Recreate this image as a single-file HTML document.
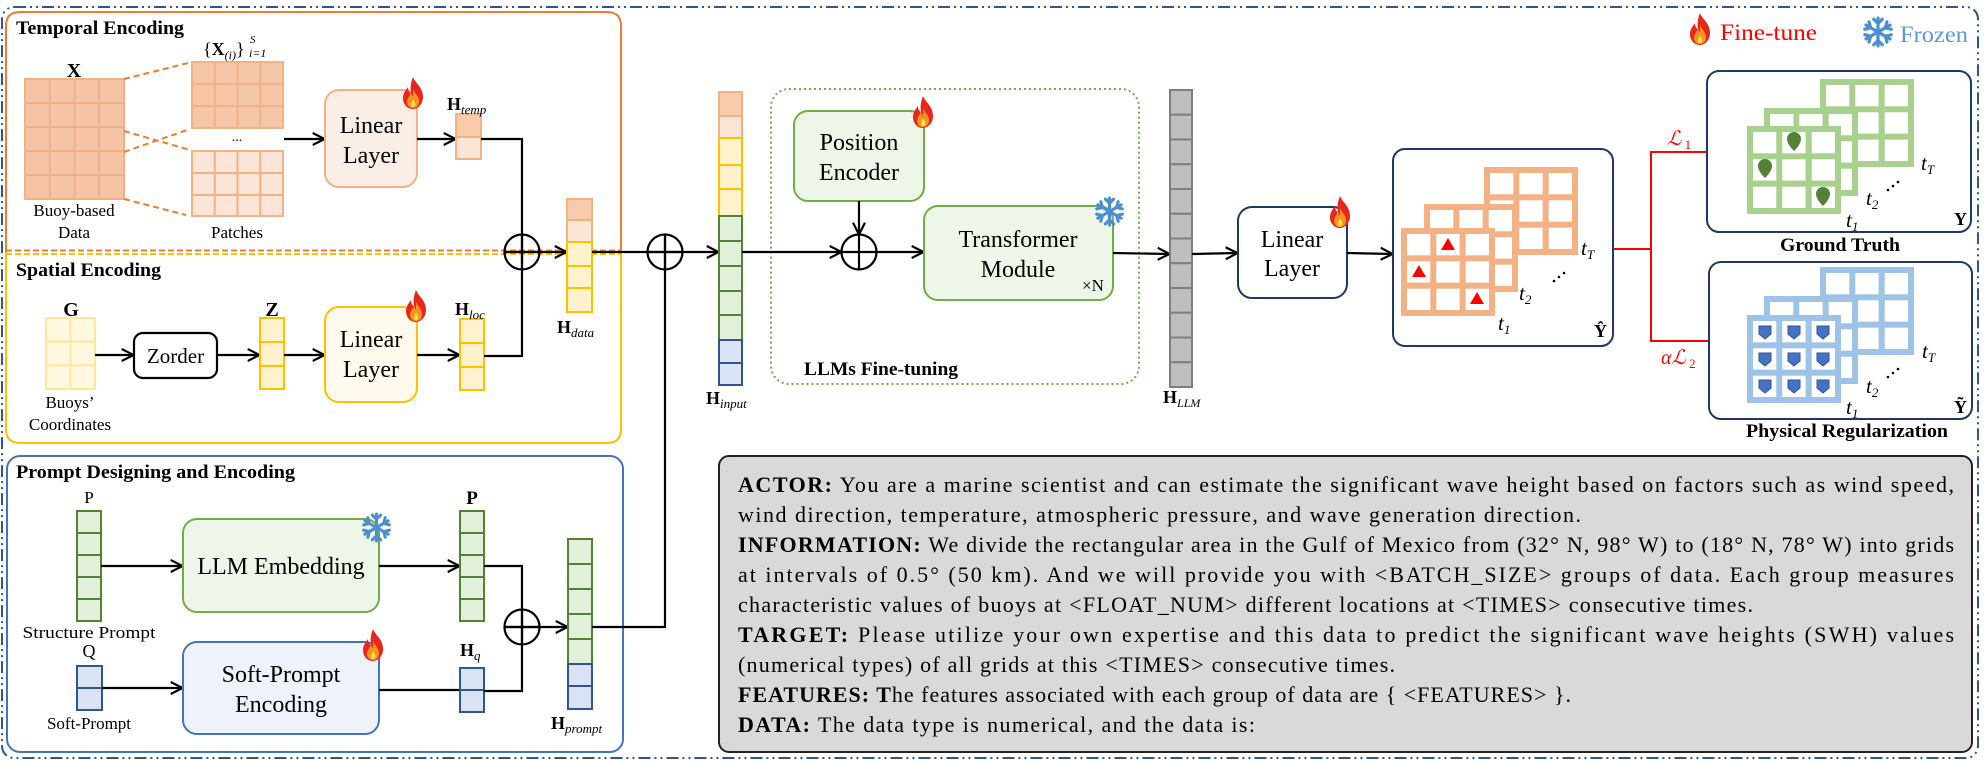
<!DOCTYPE html>
<html><head><meta charset="utf-8"><style>
html,body{margin:0;padding:0;background:#fff;}
svg{display:block;font-family:"Liberation Serif",serif;}
</style></head><body>
<svg width="1988" height="760" viewBox="0 0 1988 760" xmlns="http://www.w3.org/2000/svg">
<defs>
<marker id="a" viewBox="0 0 10 10" refX="9.5" refY="5" markerWidth="12" markerHeight="14" markerUnits="userSpaceOnUse" orient="auto">
<path d="M0,0 L10,5 L0,10" fill="none" stroke="#000" stroke-width="1.8"/>
</marker>
<symbol id="fl" viewBox="0 0 24 32">
<path d="M12 0 C14 6 22 10 22 20 C22 27 17 32 12 32 C6 32 2 27 2 21 C2 16 5 13 7 10 C7 14 9 16 10 16 C9 10 10 5 12 0Z" fill="#e8261c"/>
<path d="M12 12 C14 17 18 19 18 24 C18 29 15 31 12 31 C8 31 6 28 6 25 C6 21 9 19 10 15 C11 18 11 19 12 19 Z" fill="#f7931e"/>
<path d="M12 22 C14 25 15 27 14 29 C13 31 10 31 10 28 C10 26 11 25 12 22Z" fill="#ffe04a"/>
</symbol>
<symbol id="sn" viewBox="-15 -15 30 30">
<g stroke="#4a90d0" stroke-width="3" stroke-linecap="round" fill="none">
<g id="arm"><line x1="0" y1="-13" x2="0" y2="13"/><polyline points="-4,-12 0,-8 4,-12"/><polyline points="-4,12 0,8 4,12"/></g>
<use href="#arm" transform="rotate(60)"/><use href="#arm" transform="rotate(120)"/>
</g>
</symbol>
<symbol id="gr" viewBox="0 0 94 88" width="94" height="88">
<rect x="0" y="0" width="94" height="88" fill="currentColor"/>
<g fill="#fff">
<rect x="6" y="6" width="23.3" height="21.3"/><rect x="35.3" y="6" width="23.3" height="21.3"/><rect x="64.7" y="6" width="23.3" height="21.3"/>
<rect x="6" y="33.3" width="23.3" height="21.3"/><rect x="35.3" y="33.3" width="23.3" height="21.3"/><rect x="64.7" y="33.3" width="23.3" height="21.3"/>
<rect x="6" y="60.7" width="23.3" height="21.3"/><rect x="35.3" y="60.7" width="23.3" height="21.3"/><rect x="64.7" y="60.7" width="23.3" height="21.3"/>
</g>
</symbol>
<g id="cp"><circle cx="0" cy="0" r="17.5" fill="none" stroke="#000" stroke-width="2.2"/><line x1="-17.5" y1="0" x2="17.5" y2="0" stroke="#000" stroke-width="2.2"/><line x1="0" y1="-17.5" x2="0" y2="17.5" stroke="#000" stroke-width="2.2"/></g>
</defs>

<!-- outer border -->
<rect x="2" y="7" width="1976" height="751" rx="12" fill="none" stroke="#2f5597" stroke-width="2" stroke-dasharray="12 4 2 4 2 4"/>

<!-- Temporal / Spatial frames -->
<path d="M6,252 V26 Q6,12 20,12 H607 Q621,12 621,26 V252" fill="none" stroke="#ed7d31" stroke-width="2"/>
<path d="M6,252 V429 Q6,443 20,443 H607 Q621,443 621,429 V252" fill="none" stroke="#ffc000" stroke-width="2"/>
<line x1="6" y1="250.5" x2="621" y2="250.5" stroke="#ed7d31" stroke-width="2" stroke-dasharray="6 3"/>
<line x1="6" y1="254" x2="621" y2="254" stroke="#ffc000" stroke-width="2" stroke-dasharray="6 3"/>
<text x="16" y="34" font-size="19" font-weight="bold" textLength="168" lengthAdjust="spacingAndGlyphs">Temporal Encoding</text>
<text x="16" y="276" font-size="19" font-weight="bold" textLength="145" lengthAdjust="spacingAndGlyphs">Spatial Encoding</text>

<!-- X grid -->
<rect x="25" y="79" width="99" height="120" fill="#f4c4a4" stroke="#f0b08a" stroke-width="2"/>
<g stroke="#f0b08a" stroke-width="2">
<line x1="49.75" y1="79" x2="49.75" y2="199"/><line x1="74.5" y1="79" x2="74.5" y2="199"/><line x1="99.25" y1="79" x2="99.25" y2="199"/>
<line x1="25" y1="103" x2="124" y2="103"/><line x1="25" y1="127" x2="124" y2="127"/><line x1="25" y1="151" x2="124" y2="151"/><line x1="25" y1="175" x2="124" y2="175"/>
</g>
<text x="74" y="77" font-size="20" font-weight="bold" text-anchor="middle">X</text>
<text x="74" y="216" font-size="17" text-anchor="middle">Buoy-based</text>
<text x="74" y="238" font-size="17" text-anchor="middle">Data</text>
<!-- patches -->
<rect x="192" y="62" width="91" height="66" fill="#f5c6a8" stroke="#f4b183" stroke-width="2"/>
<g stroke="#f4b183" stroke-width="2">
<line x1="214.75" y1="62" x2="214.75" y2="128"/><line x1="237.5" y1="62" x2="237.5" y2="128"/><line x1="260.25" y1="62" x2="260.25" y2="128"/>
<line x1="192" y1="84" x2="283" y2="84"/><line x1="192" y1="106" x2="283" y2="106"/>
</g>
<rect x="192" y="151" width="91" height="65" fill="#fbe4d8" stroke="#f4b183" stroke-width="2"/>
<g stroke="#f4b183" stroke-width="2">
<line x1="214.75" y1="151" x2="214.75" y2="216"/><line x1="237.5" y1="151" x2="237.5" y2="216"/><line x1="260.25" y1="151" x2="260.25" y2="216"/>
<line x1="192" y1="173" x2="283" y2="173"/><line x1="192" y1="195" x2="283" y2="195"/>
</g>
<text x="237" y="141" font-size="14" text-anchor="middle">...</text>
<text x="237" y="238" font-size="17" text-anchor="middle">Patches</text>
<text x="203" y="55" font-size="18">{<tspan font-weight="bold">X</tspan><tspan font-size="12" font-style="italic" dy="4">(i)</tspan><tspan dy="-4">}</tspan></text>
<text x="250" y="43" font-size="11" font-style="italic">S</text>
<text x="249" y="57" font-size="12" font-style="italic">i=1</text>
<g stroke="#ed7d31" stroke-width="2" stroke-dasharray="6 4">
<line x1="124" y1="79" x2="188" y2="63"/><line x1="124" y1="131" x2="190" y2="150"/><line x1="124" y1="152" x2="190" y2="129"/><line x1="124" y1="199" x2="186" y2="215"/>
</g>
<line x1="284" y1="139" x2="324" y2="139" stroke="#000" stroke-width="2.2" marker-end="url(#a)"/>
<rect x="325" y="90" width="92" height="97" rx="14" fill="#fbeee6" stroke="#f4b183" stroke-width="2"/>
<text x="371" y="133" font-size="24" text-anchor="middle">Linear</text>
<text x="371" y="163" font-size="24" text-anchor="middle">Layer</text>
<use href="#fl" x="401" y="77" width="24" height="32"/>
<line x1="417" y1="139" x2="455" y2="139" stroke="#000" stroke-width="2.2" marker-end="url(#a)"/>
<rect x="456" y="114" width="25" height="23" fill="#f8cbad" stroke="#f4b183" stroke-width="2"/>
<rect x="456" y="137" width="25" height="22" fill="#fbe5d6" stroke="#f4b183" stroke-width="2"/>
<text x="447" y="110" font-size="18" font-weight="bold">H<tspan font-size="13" font-style="italic" font-weight="normal" dy="4">temp</tspan></text>

<!-- spatial -->
<rect x="46" y="318" width="49" height="71" fill="#fff8e0" stroke="#ffe699" stroke-width="2"/>
<g stroke="#ffe699" stroke-width="2"><line x1="70.5" y1="318" x2="70.5" y2="389"/><line x1="46" y1="341.7" x2="95" y2="341.7"/><line x1="46" y1="365.3" x2="95" y2="365.3"/></g>
<text x="71" y="316" font-size="20" font-weight="bold" text-anchor="middle">G</text>
<text x="70" y="408" font-size="17" text-anchor="middle">Buoys’</text>
<text x="70" y="430" font-size="17" text-anchor="middle">Coordinates</text>
<line x1="95" y1="355" x2="133" y2="355" stroke="#000" stroke-width="2.2" marker-end="url(#a)"/>
<rect x="134" y="333" width="83" height="45" rx="9" fill="#fff" stroke="#000" stroke-width="2.2"/>
<text x="175.5" y="363" font-size="21" text-anchor="middle">Zorder</text>
<line x1="217" y1="355" x2="259" y2="355" stroke="#000" stroke-width="2.2" marker-end="url(#a)"/>
<g fill="#fff2cc" stroke="#ffc000" stroke-width="2"><rect x="260" y="318" width="24" height="24"/><rect x="260" y="342" width="24" height="24"/><rect x="260" y="366" width="24" height="23"/></g>
<text x="272" y="316" font-size="20" font-weight="bold" text-anchor="middle">Z</text>
<line x1="284" y1="355" x2="324" y2="355" stroke="#000" stroke-width="2.2" marker-end="url(#a)"/>
<rect x="325" y="307" width="92" height="95" rx="14" fill="#fffaeb" stroke="#ffc000" stroke-width="2"/>
<text x="371" y="347" font-size="24" text-anchor="middle">Linear</text>
<text x="371" y="377" font-size="24" text-anchor="middle">Layer</text>
<use href="#fl" x="404" y="290" width="24" height="32"/>
<line x1="417" y1="355" x2="459" y2="355" stroke="#000" stroke-width="2.2" marker-end="url(#a)"/>
<g fill="#fff2cc" stroke="#ffc000" stroke-width="2"><rect x="460" y="319" width="24" height="24"/><rect x="460" y="343" width="24" height="24"/><rect x="460" y="367" width="24" height="23"/></g>
<text x="455" y="315" font-size="18" font-weight="bold">H<tspan font-size="13" font-style="italic" font-weight="normal" dy="4">loc</tspan></text>

<!-- merge 1 -->
<polyline points="481,139 522,139 522,356 484,356" fill="none" stroke="#000" stroke-width="2.2"/>
<use href="#cp" transform="translate(522,252)"/>
<line x1="504" y1="252" x2="566" y2="252" stroke="#000" stroke-width="2.2" marker-end="url(#a)"/>
<rect x="567" y="199" width="25" height="21" fill="#f8cbad" stroke="#f4b183" stroke-width="2"/>
<rect x="567" y="220" width="25" height="22" fill="#fbe5d6" stroke="#f4b183" stroke-width="2"/>
<g fill="#fff2cc" stroke="#ffc000" stroke-width="2"><rect x="567" y="242" width="25" height="24"/><rect x="567" y="266" width="25" height="22"/><rect x="567" y="288" width="25" height="24"/></g>
<text x="557" y="333" font-size="18" font-weight="bold">H<tspan font-size="13" font-style="italic" font-weight="normal" dy="4">data</tspan></text>

<!-- Prompt box -->
<rect x="7" y="456" width="616" height="296" rx="13" fill="none" stroke="#4472c4" stroke-width="2"/>
<text x="16" y="478" font-size="19" font-weight="bold" textLength="279" lengthAdjust="spacingAndGlyphs">Prompt Designing and Encoding</text>
<text x="89" y="503" font-size="17" text-anchor="middle">P</text>
<g fill="#e2efda" stroke="#548235" stroke-width="2"><rect x="77" y="511" width="24" height="22"/><rect x="77" y="533" width="24" height="22"/><rect x="77" y="555" width="24" height="22"/><rect x="77" y="577" width="24" height="22"/><rect x="77" y="599" width="24" height="22"/></g>
<text x="89" y="638" font-size="17" text-anchor="middle" textLength="133" lengthAdjust="spacingAndGlyphs">Structure Prompt</text>
<line x1="101" y1="566" x2="182" y2="566" stroke="#000" stroke-width="2.2" marker-end="url(#a)"/>
<rect x="183" y="519" width="196" height="93" rx="14" fill="#eef5e9" stroke="#70ad47" stroke-width="2"/>
<text x="281" y="574" font-size="24" text-anchor="middle">LLM Embedding</text>
<use href="#sn" x="361" y="512" width="31" height="31"/>
<line x1="379" y1="566" x2="459" y2="566" stroke="#000" stroke-width="2.2" marker-end="url(#a)"/>
<g fill="#e2efda" stroke="#548235" stroke-width="2"><rect x="460" y="511" width="24" height="22"/><rect x="460" y="533" width="24" height="22"/><rect x="460" y="555" width="24" height="22"/><rect x="460" y="577" width="24" height="22"/><rect x="460" y="599" width="24" height="22"/></g>
<text x="472" y="504" font-size="19" font-weight="bold" text-anchor="middle">P</text>
<text x="89" y="657" font-size="18" text-anchor="middle">Q</text>
<g fill="#dae3f3" stroke="#2f5597" stroke-width="2"><rect x="77" y="666" width="25" height="22"/><rect x="77" y="688" width="25" height="22"/></g>
<text x="89" y="729" font-size="17" text-anchor="middle">Soft-Prompt</text>
<line x1="102" y1="688" x2="182" y2="688" stroke="#000" stroke-width="2.2" marker-end="url(#a)"/>
<rect x="183" y="642" width="196" height="92" rx="14" fill="#eef3fb" stroke="#4472c4" stroke-width="2"/>
<text x="281" y="682" font-size="24" text-anchor="middle">Soft-Prompt</text>
<text x="281" y="712" font-size="24" text-anchor="middle">Encoding</text>
<use href="#fl" x="361" y="629" width="24" height="32"/>
<line x1="379" y1="690" x2="460" y2="690" stroke="#000" stroke-width="2.2"/>
<g fill="#dae3f3" stroke="#2f5597" stroke-width="2"><rect x="460" y="668" width="24" height="22"/><rect x="460" y="690" width="24" height="22"/></g>
<text x="460" y="656" font-size="18" font-weight="bold">H<tspan font-size="13" font-style="italic" font-weight="normal" dy="4">q</tspan></text>
<polyline points="484,566 522,566 522,691 484,691" fill="none" stroke="#000" stroke-width="2.2"/>
<use href="#cp" transform="translate(522,627)"/>
<line x1="504" y1="627" x2="567" y2="627" stroke="#000" stroke-width="2.2" marker-end="url(#a)"/>
<g fill="#e2efda" stroke="#548235" stroke-width="2"><rect x="568" y="539" width="24" height="25"/><rect x="568" y="564" width="24" height="25"/><rect x="568" y="589" width="24" height="25"/><rect x="568" y="614" width="24" height="25"/><rect x="568" y="639" width="24" height="25"/></g>
<g fill="#dae3f3" stroke="#2f5597" stroke-width="2"><rect x="568" y="664" width="24" height="22"/><rect x="568" y="686" width="24" height="23"/></g>
<text x="551" y="729" font-size="18" font-weight="bold">H<tspan font-size="13" font-style="italic" font-weight="normal" dy="4">prompt</tspan></text>

<!-- merge 2 -->
<polyline points="592,627 665,627 665,235" fill="none" stroke="#000" stroke-width="2.2"/>
<use href="#cp" transform="translate(665,252)"/>
<line x1="592" y1="252" x2="718" y2="252" stroke="#000" stroke-width="2.2" marker-end="url(#a)"/>

<!-- H input -->
<g stroke-width="2">
<rect x="719" y="92" width="23" height="24" fill="#f8cbad" stroke="#f4b183"/>
<rect x="719" y="116" width="23" height="22" fill="#fbe5d6" stroke="#f4b183"/>
<g fill="#fff2cc" stroke="#ffc000"><rect x="719" y="138" width="23" height="27"/><rect x="719" y="165" width="23" height="24"/><rect x="719" y="189" width="23" height="27"/></g>
<g fill="#e2efda" stroke="#548235"><rect x="719" y="216" width="23" height="25"/><rect x="719" y="241" width="23" height="25"/><rect x="719" y="266" width="23" height="25"/><rect x="719" y="291" width="23" height="24"/><rect x="719" y="315" width="23" height="25"/></g>
<g fill="#dae3f3" stroke="#2f5597"><rect x="719" y="340" width="23" height="23"/><rect x="719" y="363" width="23" height="22"/></g>
</g>
<text x="706" y="404" font-size="18" font-weight="bold">H<tspan font-size="13" font-style="italic" font-weight="normal" dy="4">input</tspan></text>

<!-- LLM fine-tuning -->
<rect x="771" y="89" width="368" height="295" rx="18" fill="none" stroke="#70ad47" stroke-width="2" stroke-dasharray="2 3"/>
<text x="804" y="375" font-size="19" font-weight="bold" textLength="154" lengthAdjust="spacingAndGlyphs">LLMs Fine-tuning</text>
<rect x="794" y="111" width="130" height="90" rx="14" fill="#eef5e9" stroke="#70ad47" stroke-width="2"/>
<text x="859" y="150" font-size="24" text-anchor="middle">Position</text>
<text x="859" y="180" font-size="24" text-anchor="middle">Encoder</text>
<use href="#fl" x="911" y="96" width="24" height="32"/>
<line x1="859" y1="201" x2="859" y2="234" stroke="#000" stroke-width="2.2" marker-end="url(#a)"/>
<line x1="742" y1="252" x2="841" y2="252" stroke="#000" stroke-width="2.2" marker-end="url(#a)"/>
<use href="#cp" transform="translate(859,252)"/>
<line x1="877" y1="252" x2="923" y2="252" stroke="#000" stroke-width="2.2" marker-end="url(#a)"/>
<rect x="924" y="206" width="189" height="94" rx="14" fill="#eef5e9" stroke="#70ad47" stroke-width="2"/>
<text x="1018" y="247" font-size="24" text-anchor="middle">Transformer</text>
<text x="1018" y="277" font-size="24" text-anchor="middle">Module</text>
<text x="1082" y="291" font-size="17">×N</text>
<use href="#sn" x="1094" y="196" width="31" height="31"/>
<line x1="1113" y1="253" x2="1169" y2="254" stroke="#000" stroke-width="2.2" marker-end="url(#a)"/>

<!-- HLLM -->
<g fill="#bfbfbf" stroke="#7f7f7f" stroke-width="2">
<rect x="1170" y="90" width="22" height="24.75"/><rect x="1170" y="114.75" width="22" height="24.75"/><rect x="1170" y="139.5" width="22" height="24.75"/><rect x="1170" y="164.25" width="22" height="24.75"/><rect x="1170" y="189" width="22" height="24.75"/><rect x="1170" y="213.75" width="22" height="24.75"/><rect x="1170" y="238.5" width="22" height="24.75"/><rect x="1170" y="263.25" width="22" height="24.75"/><rect x="1170" y="288" width="22" height="24.75"/><rect x="1170" y="312.75" width="22" height="24.75"/><rect x="1170" y="337.5" width="22" height="24.75"/><rect x="1170" y="362.25" width="22" height="24.75"/>
</g>
<text x="1163" y="403" font-size="18" font-weight="bold">H<tspan font-size="12" font-style="italic" font-weight="normal" dy="4">LLM</tspan></text>
<line x1="1192" y1="254" x2="1237" y2="253" stroke="#000" stroke-width="2.2" marker-end="url(#a)"/>
<rect x="1238" y="207" width="109" height="91" rx="14" fill="#fff" stroke="#1f3864" stroke-width="2"/>
<text x="1292" y="247" font-size="24" text-anchor="middle">Linear</text>
<text x="1292" y="276" font-size="24" text-anchor="middle">Layer</text>
<use href="#fl" x="1328" y="196" width="24" height="32"/>
<line x1="1347" y1="253" x2="1392" y2="254" stroke="#000" stroke-width="2.2" marker-end="url(#a)"/>

<!-- Y hat box -->
<rect x="1393" y="149" width="220" height="197" rx="12" fill="#fff" stroke="#1f3864" stroke-width="2"/>
<use href="#gr" x="1484" y="167" style="color:#f4b183"/>
<use href="#gr" x="1424" y="204" style="color:#f4b183"/>
<use href="#gr" x="1401" y="228" style="color:#f4b183"/>
<g fill="#ff0000">
<polygon points="1448,238 1455,250 1441,250"/><polygon points="1419,265 1426,277 1412,277"/><polygon points="1477,292 1484,304 1470,304"/>
</g>
<text x="1581" y="255" font-size="21" font-style="italic">t<tspan font-size="13" dy="4">T</tspan></text>
<text x="1519" y="300" font-size="21" font-style="italic">t<tspan font-size="13" dy="4">2</tspan></text>
<text x="1498" y="330" font-size="21" font-style="italic">t<tspan font-size="13" dy="4">1</tspan></text>
<g fill="#000"><circle cx="1554" cy="281" r="1.3"/><circle cx="1559" cy="277" r="1.3"/><circle cx="1564" cy="273" r="1.3"/></g>
<text x="1594" y="337" font-size="18" font-weight="bold">Ŷ</text>

<!-- red losses -->
<polyline points="1613,249 1651,249" fill="none" stroke="#ff0000" stroke-width="2"/>
<polyline points="1708,152 1651,152 1651,341 1709,341" fill="none" stroke="#ff0000" stroke-width="2"/>
<text x="1667" y="145" font-size="20" font-style="italic" fill="#ff0000">ℒ<tspan font-size="13" dy="4" font-style="normal"> 1</tspan></text>
<text x="1661" y="364" font-size="20" font-style="italic" fill="#ff0000">αℒ<tspan font-size="13" dy="4" font-style="normal"> 2</tspan></text>

<!-- Ground truth -->
<rect x="1707" y="71" width="264" height="161" rx="12" fill="#fff" stroke="#1f3864" stroke-width="2"/>
<use href="#gr" x="1820" y="79" style="color:#a9d18e"/>
<use href="#gr" x="1764" y="108" style="color:#a9d18e"/>
<use href="#gr" x="1747" y="126" style="color:#a9d18e"/>
<g fill="#548235">
<path d="M1794,151 C1788,145 1787,141 1787,139 A7,7 0 0 1 1801,139 C1801,141 1800,145 1794,151Z"/>
<path d="M1765,178 C1759,172 1758,168 1758,166 A7,7 0 0 1 1772,166 C1772,168 1771,172 1765,178Z"/>
<path d="M1823,206 C1817,200 1816,196 1816,194 A7,7 0 0 1 1830,194 C1830,196 1829,200 1823,206Z"/>
</g>
<text x="1921" y="170" font-size="21" font-style="italic">t<tspan font-size="13" dy="4">T</tspan></text>
<text x="1866" y="205" font-size="21" font-style="italic">t<tspan font-size="13" dy="4">2</tspan></text>
<text x="1846" y="227" font-size="21" font-style="italic">t<tspan font-size="13" dy="4">1</tspan></text>
<g fill="#000"><circle cx="1888" cy="190" r="1.3"/><circle cx="1893" cy="186" r="1.3"/><circle cx="1898" cy="182" r="1.3"/></g>
<text x="1954" y="225" font-size="18" font-weight="bold">Y</text>
<text x="1840" y="251" font-size="19" font-weight="bold" text-anchor="middle" textLength="120" lengthAdjust="spacingAndGlyphs">Ground Truth</text>

<!-- Physical Regularization -->
<rect x="1709" y="262" width="263" height="157" rx="12" fill="#fff" stroke="#1f3864" stroke-width="2"/>
<use href="#gr" x="1820" y="267" style="color:#9dc3e6"/>
<use href="#gr" x="1764" y="296" style="color:#9dc3e6"/>
<use href="#gr" x="1747" y="315" style="color:#9dc3e6"/>
<g fill="#4472c4" stroke="#2f5597" stroke-width="1">
<path d="M1759,326 h12 v8 l-6,5 l-6,-5z"/><path d="M1788,326 h12 v8 l-6,5 l-6,-5z"/><path d="M1817,326 h12 v8 l-6,5 l-6,-5z"/>
<path d="M1759,353 h12 v8 l-6,5 l-6,-5z"/><path d="M1788,353 h12 v8 l-6,5 l-6,-5z"/><path d="M1817,353 h12 v8 l-6,5 l-6,-5z"/>
<path d="M1759,380 h12 v8 l-6,5 l-6,-5z"/><path d="M1788,380 h12 v8 l-6,5 l-6,-5z"/><path d="M1817,380 h12 v8 l-6,5 l-6,-5z"/>
</g>
<text x="1922" y="358" font-size="21" font-style="italic">t<tspan font-size="13" dy="4">T</tspan></text>
<text x="1866" y="393" font-size="21" font-style="italic">t<tspan font-size="13" dy="4">2</tspan></text>
<text x="1846" y="414" font-size="21" font-style="italic">t<tspan font-size="13" dy="4">1</tspan></text>
<g fill="#000"><circle cx="1888" cy="377" r="1.3"/><circle cx="1893" cy="373" r="1.3"/><circle cx="1898" cy="369" r="1.3"/></g>
<text x="1954" y="413" font-size="18" font-weight="bold">Ỹ</text>
<text x="1847" y="437" font-size="19" font-weight="bold" text-anchor="middle" textLength="202" lengthAdjust="spacingAndGlyphs">Physical Regularization</text>

<!-- legend -->
<use href="#fl" x="1688" y="13" width="24" height="32"/>
<text x="1720" y="40" font-size="23" fill="#ff0000" textLength="97" lengthAdjust="spacingAndGlyphs">Fine-tune</text>
<use href="#sn" x="1862" y="16" width="32" height="32"/>
<text x="1900" y="42" font-size="23" fill="#5b9bd5" textLength="68" lengthAdjust="spacingAndGlyphs">Frozen</text>

<!-- prompt text box -->
<rect x="719" y="456" width="1253" height="296" rx="10" fill="#d9d9d9" stroke="#222" stroke-width="2"/>
<g font-size="22">
<text x="738" y="492" textLength="1216" lengthAdjust="spacing"><tspan font-weight="bold">ACTOR:</tspan> You are a marine scientist and can estimate the significant wave height based on factors such as wind speed,</text>
<text x="738" y="522" textLength="843" lengthAdjust="spacing">wind direction, temperature, atmospheric pressure, and wave generation direction.</text>
<text x="738" y="552" textLength="1216" lengthAdjust="spacing"><tspan font-weight="bold">INFORMATION:</tspan> We divide the rectangular area in the Gulf of Mexico from (32° N, 98° W) to (18° N, 78° W) into grids</text>
<text x="738" y="582" textLength="1216" lengthAdjust="spacing">at intervals of 0.5° (50 km). And we will provide you with &lt;BATCH_SIZE&gt; groups of data. Each group measures</text>
<text x="738" y="612" textLength="1015" lengthAdjust="spacing">characteristic values of buoys at &lt;FLOAT_NUM&gt; different locations at &lt;TIMES&gt; consecutive times.</text>
<text x="738" y="642" textLength="1216" lengthAdjust="spacing"><tspan font-weight="bold">TARGET:</tspan> Please utilize your own expertise and this data to predict the significant wave heights (SWH) values</text>
<text x="738" y="672" textLength="657" lengthAdjust="spacing">(numerical types) of all grids at this &lt;TIMES&gt; consecutive times.</text>
<text x="738" y="702" textLength="833" lengthAdjust="spacing"><tspan font-weight="bold">FEATURES: T</tspan>he features associated with each group of data are { &lt;FEATURES&gt; }.</text>
<text x="738" y="732" textLength="517" lengthAdjust="spacing"><tspan font-weight="bold">DATA:</tspan> The data type is numerical, and the data is:</text>
</g>
</svg>
</body></html>
